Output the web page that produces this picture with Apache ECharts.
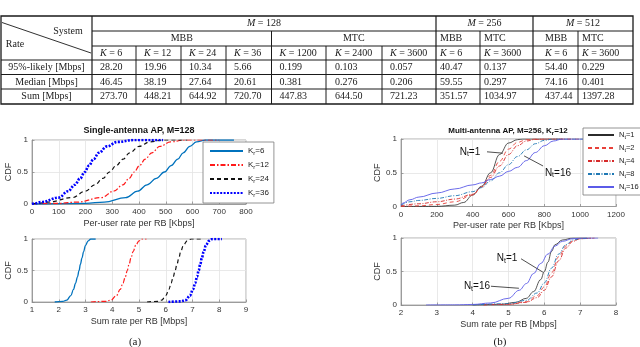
<!DOCTYPE html>
<html>
<head>
<meta charset="utf-8">
<script src="https://cdn.jsdelivr.net/npm/echarts@6/dist/echarts.min.js"></script>
<style>
html, body { margin: 0; padding: 0; background: #fff; }
#chart { width: 640px; height: 347px; }
</style>
</head>
<body>
<div id="chart"></div>
<script>
// ---- table data ----
var mValues = ['128', '256', '512'];
var systemLabels = ['MBB', 'MTC', 'MBB', 'MTC', 'MBB', 'MTC'];
var kLabels = ['6', '12', '24', '36', '1200', '2400', '3600', '6', '3600', '6', '3600'];
var rateLabels = ['95%-likely [Mbps]', 'Median [Mbps]', 'Sum [Mbps]'];
var rate95 = ['28.20', '19.96', '10.34', '5.66', '0.199', '0.103', '0.057', '40.47', '0.137', '54.40', '0.229'];
var rateMedian = ['46.45', '38.19', '27.64', '20.61', '0.381', '0.276', '0.206', '59.55', '0.297', '74.16', '0.401'];
var rateSum = ['273.70', '448.21', '644.92', '720.70', '447.83', '644.50', '721.23', '351.57', '1034.97', '437.44', '1397.28'];

// ---- (a) single-antenna AP, M=128 : [rate, CDF] ----
var kValues = [6, 12, 24, 36];
var userK6 = [[0,0],[200,0.01],[270,0.03],[350,0.1],[395,0.2],[430,0.3],[465,0.4],[495,0.5],[520,0.6],[545,0.7],[565,0.8],[590,0.9],[615,0.97],[650,1],[755,1]];
var userK12 = [[0,0],[100,0.01],[170,0.03],[260,0.1],[305,0.2],[340,0.3],[363,0.4],[382,0.5],[402,0.6],[423,0.7],[448,0.8],[478,0.9],[518,0.97],[570,1],[700,1]];
var userK24 = [[0,0],[20,0.01],[60,0.03],[150,0.1],[200,0.2],[235,0.3],[265,0.4],[290,0.5],[315,0.6],[340,0.7],[365,0.8],[400,0.9],[440,0.97],[490,1],[580,1]];
var userK36 = [[0,0],[10,0.01],[35,0.03],[100,0.1],[135,0.2],[160,0.3],[180,0.4],[197,0.5],[213,0.6],[230,0.7],[250,0.8],[280,0.9],[320,0.97],[380,1],[490,1]];
var sumK6 = [[1.85,0],[2.15,0.01],[2.3,0.03],[2.45,0.1],[2.55,0.2],[2.63,0.3],[2.7,0.4],[2.76,0.5],[2.81,0.6],[2.87,0.7],[2.93,0.8],[3.0,0.9],[3.1,0.97],[3.2,1],[3.38,1]];
var sumK12 = [[3.2,0],[3.75,0.01],[3.95,0.03],[4.15,0.1],[4.3,0.2],[4.4,0.3],[4.49,0.4],[4.56,0.5],[4.63,0.6],[4.7,0.7],[4.78,0.8],[4.88,0.9],[5.0,0.97],[5.1,1],[5.28,1]];
var sumK24 = [[5.3,0],[5.7,0.01],[5.85,0.03],[6.0,0.1],[6.12,0.2],[6.2,0.3],[6.28,0.4],[6.35,0.5],[6.42,0.6],[6.49,0.7],[6.56,0.8],[6.66,0.9],[6.8,0.97],[6.95,1],[7.35,1]];
var sumK36 = [[6.1,0],[6.55,0.01],[6.75,0.03],[6.9,0.1],[7.02,0.2],[7.1,0.3],[7.17,0.4],[7.23,0.5],[7.29,0.6],[7.35,0.7],[7.42,0.8],[7.5,0.9],[7.62,0.97],[7.75,1],[8.1,1]];

// ---- (b) multi-antenna AP, M=256, Kr=12 ----
var ntValues = [1, 2, 4, 8, 16];
var userNt1 = [[0,0],[200,0.002],[300,0.02],[350,0.06],[400,0.17],[450,0.3],[500,0.5],[550,0.77],[600,0.94],[650,0.99],[680,1],[900,1]];
var userNt2 = [[0,0],[100,0.01],[200,0.03],[300,0.07],[400,0.17],[450,0.29],[500,0.46],[550,0.67],[600,0.85],[650,0.95],[700,0.99],[750,1],[950,1]];
var userNt4 = [[0,0.01],[100,0.04],[200,0.07],[300,0.11],[400,0.18],[450,0.29],[500,0.43],[550,0.6],[600,0.77],[650,0.9],[700,0.97],[750,0.995],[800,1],[1000,1]];
var userNt8 = [[0,0.02],[50,0.07],[100,0.09],[200,0.12],[300,0.16],[400,0.22],[450,0.28],[500,0.38],[550,0.5],[600,0.62],[650,0.74],[700,0.84],[750,0.93],[800,0.98],[850,1],[1050,1]];
var userNt16 = [[0,0.02],[10,0.05],[50,0.1],[100,0.14],[200,0.2],[300,0.26],[400,0.32],[450,0.35],[500,0.4],[550,0.45],[600,0.52],[650,0.58],[700,0.68],[750,0.8],[800,0.9],[850,0.97],[900,1],[1120,1]];
var sumNt1 = [[4.0,0],[4.8,0.01],[5.2,0.04],[5.5,0.1],[5.7,0.2],[5.9,0.38],[6.0,0.5],[6.1,0.64],[6.2,0.8],[6.3,0.9],[6.5,0.97],[6.8,1],[7.2,1]];
var sumNt2 = [[4.3,0],[5.0,0.01],[5.5,0.05],[5.8,0.14],[6.0,0.27],[6.2,0.48],[6.4,0.72],[6.6,0.88],[6.8,0.96],[7.0,0.99],[7.3,1]];
var sumNt4 = [[4.3,0],[5.0,0.01],[5.5,0.04],[5.8,0.11],[6.0,0.22],[6.2,0.42],[6.4,0.66],[6.6,0.85],[6.8,0.95],[7.0,0.99],[7.4,1]];
var sumNt8 = [[4.0,0],[5.0,0.02],[5.5,0.07],[5.8,0.18],[6.0,0.33],[6.2,0.55],[6.4,0.76],[6.6,0.9],[6.8,0.97],[7.0,0.99],[7.3,1]];
var sumNt16 = [[2.7,0],[3.5,0.002],[4.0,0.008],[4.5,0.03],[5.0,0.1],[5.3,0.22],[5.5,0.32],[5.7,0.47],[5.9,0.62],[6.1,0.76],[6.3,0.88],[6.5,0.95],[6.8,0.99],[7.1,1],[7.5,1]];

// annotations in data units: [text centre, arrow start, arrow tip]
var noteUserNt1 = [[385, 0.81], [480, 0.81], [569, 0.79]];
var noteUserNt16 = [[876, 0.5], [793, 0.6], [687, 0.75]];
var noteSumNt1 = [[4.96, 0.7], [5.35, 0.69], [5.96, 0.49]];
var noteSumNt16 = [[4.12, 0.28], [4.51, 0.28], [5.29, 0.25]];

var SANS = 'Liberation Sans, Arial, sans-serif';
var SERIF = 'Liberation Serif, Times New Roman, serif';
var INK = '#1a1a1a';

// ---------- table built from graphic elements ----------
var colX = [1, 92, 136, 181, 226, 271.5, 326, 382, 436, 480, 533, 578, 633];
var rowY = [16, 31, 46, 60, 74.5, 89, 104];
var textPad = [8, 8, 8, 8, 8, 9, 8, 4, 4, 12, 4];

function hLine(x1, x2, y, w) {
    return { type: 'line', silent: true, shape: { x1: x1, y1: y, x2: x2, y2: y }, style: { stroke: INK, lineWidth: w || 1 } };
}
function vLine(x, y1, y2, w) {
    return { type: 'line', silent: true, shape: { x1: x, y1: y1, x2: x, y2: y2 }, style: { stroke: INK, lineWidth: w || 1 } };
}
function cellText(x, y, text, align, rich) {
    return {
        type: 'text', silent: true, x: x, y: y,
        style: { text: text, font: '10px ' + SERIF, fill: INK, align: align || 'left', verticalAlign: 'middle', rich: rich }
    };
}
var italicRich = {
    i: { fontFamily: SERIF, fontSize: 10, fontStyle: 'italic', fill: INK, color: INK },
    n: { fontFamily: SERIF, fontSize: 10, fill: INK, color: INK }
};

var tableEls = [];
tableEls.push({ type: 'rect', silent: true, shape: { x: colX[0], y: rowY[0], width: colX[12] - colX[0], height: rowY[6] - rowY[0] }, style: { fill: 'none', stroke: INK, lineWidth: 1.3 } });
tableEls.push(hLine(colX[1], colX[12], rowY[1]));
tableEls.push(hLine(colX[1], colX[12], rowY[2]));
[3, 4, 5].forEach(function (r) { tableEls.push(hLine(colX[0], colX[12], rowY[r])); });
tableEls.push(vLine(colX[1], rowY[0], rowY[6], 1.2));
tableEls.push(vLine(colX[8], rowY[0], rowY[6], 1.2));
tableEls.push(vLine(colX[10], rowY[0], rowY[6], 1.2));
[5, 9, 11].forEach(function (c) { tableEls.push(vLine(colX[c], rowY[1], rowY[6])); });
[2, 3, 4, 6, 7].forEach(function (c) { tableEls.push(vLine(colX[c], rowY[2], rowY[6])); });
tableEls.push({ type: 'line', silent: true, shape: { x1: 2, y1: 22.5, x2: 91, y2: 53 }, style: { stroke: INK, lineWidth: 0.9 } });
tableEls.push(cellText(68, 31.5, 'System', 'center'));
tableEls.push(cellText(15, 44.5, 'Rate', 'center'));

// M = ... header row
var mSpans = [[1, 8], [8, 10], [10, 12]];
mValues.forEach(function (m, i) {
    var cx = (colX[mSpans[i][0]] + colX[mSpans[i][1]]) / 2;
    tableEls.push(cellText(cx, 23.5, '{i|M}{n| = ' + m + '}', 'center', italicRich));
});
// system row
var sysSpans = [[1, 5], [5, 8], [8, 9], [9, 10], [10, 11], [11, 12]];
systemLabels.forEach(function (s, i) {
    var a = sysSpans[i][0], b = sysSpans[i][1];
    if (i < 2) {
        tableEls.push(cellText((colX[a] + colX[b]) / 2, 38.5, s, 'center'));
    } else {
        tableEls.push(cellText(colX[a] + textPad[a - 1], 38.5, s, 'left'));
    }
});
// K row and values
kLabels.forEach(function (k, i) {
    var x = colX[i + 1] + textPad[i];
    tableEls.push(cellText(x, 53.2, '{i|K}{n| = ' + k + '}', 'left', italicRich));
    tableEls.push(cellText(x, 67.5, rate95[i], 'left'));
    tableEls.push(cellText(x, 82, rateMedian[i], 'left'));
    tableEls.push(cellText(x, 96.7, rateSum[i], 'left'));
});
rateLabels.forEach(function (r, i) {
    tableEls.push(cellText(46.5, [67.5, 82, 96.7][i], r, 'center'));
});

// titles & captions
var subRich = {
    m: { fontFamily: SANS, fontSize: 8, fontWeight: 'bold', color: '#111', fill: '#111' },
    s: { fontFamily: SANS, fontSize: 6, fontWeight: 'bold', color: '#111', fill: '#111', padding: [4, 0, 0, 0] }
};
var decoEls = [
    { type: 'text', silent: true, x: 139, y: 131, style: { text: 'Single-antenna AP, M=128', font: 'bold 9px ' + SANS, fill: '#111', align: 'center', verticalAlign: 'middle' } },
    { type: 'text', silent: true, x: 508, y: 131, style: { text: '{m|Multi-antenna AP, M=256, K}{s|r}{m|=12}', rich: subRich, align: 'center', verticalAlign: 'middle' } },
    { type: 'text', silent: true, x: 135, y: 342, style: { text: '(a)', font: '11px ' + SERIF, fill: INK, align: 'center', verticalAlign: 'middle' } },
    { type: 'text', silent: true, x: 500, y: 342, style: { text: '(b)', font: '11px ' + SERIF, fill: INK, align: 'center', verticalAlign: 'middle' } }
];

// ---------- charts ----------
var grids = [
    { left: 32, top: 140, width: 214, height: 64 },
    { left: 32, top: 239, width: 214, height: 63 },
    { left: 401, top: 139, width: 215, height: 67.5 },
    { left: 401, top: 238, width: 215, height: 67 }
].map(function (g) {
    return Object.assign({ show: true, borderColor: '#9a9a9a', borderWidth: 0.8, containLabel: false, outerBoundsMode: 'none' }, g);
});

var xRanges = [[0, 800, 100, 'Per-user rate per RB [Kbps]'], [1, 9, 1, 'Sum rate per RB [Mbps]'],
               [0, 1200, 200, 'Per-user rate per RB [Kbps]'], [2, 8, 1, 'Sum rate per RB [Mbps]']];

var xAxes = xRanges.map(function (r, i) {
    return {
        type: 'value', gridIndex: i, min: r[0], max: r[1], interval: r[2],
        name: r[3], nameLocation: 'middle', nameGap: 15,
        nameTextStyle: { fontFamily: SANS, fontSize: 9, color: '#333' },
        axisLine: { show: true, lineStyle: { color: '#8a8a8a', width: 0.8 } },
        axisTick: { show: true, inside: true, length: 2.5, lineStyle: { color: '#8a8a8a', width: 0.8 } },
        axisLabel: { margin: 4, fontFamily: SANS, fontSize: 8, color: '#333',
            formatter: function (v) { return String(v); } },
        splitLine: { show: true, lineStyle: { color: '#e3e3e3', width: 0.8 } }
    };
});
var yAxes = [0, 1, 2, 3].map(function (i) {
    return {
        type: 'value', gridIndex: i, min: 0, max: 1, interval: 0.5,
        name: 'CDF', nameLocation: 'middle', nameGap: i < 2 ? 12 : 15, nameRotate: 90,
        nameTextStyle: { fontFamily: SANS, fontSize: 9, color: '#333' },
        axisLine: { show: true, lineStyle: { color: '#8a8a8a', width: 0.8 } },
        axisTick: { show: true, inside: true, length: 2.5, lineStyle: { color: '#8a8a8a', width: 0.8 } },
        axisLabel: { margin: 4, fontFamily: SANS, fontSize: 8, color: '#333',
            formatter: function (v) { return String(v); } },
        splitLine: { show: true, lineStyle: { color: '#e3e3e3', width: 0.8 } }
    };
});

function curve(name, data, axis, color, dash, width) {
    return {
        type: 'line', name: name, xAxisIndex: axis, yAxisIndex: axis, data: data,
        symbol: 'none', smooth: 0.4, smoothMonotone: 'x', silent: true,
        lineStyle: { color: color, type: dash, width: width, cap: 'butt' },
        itemStyle: { color: color }
    };
}

var kStyles = [['#0072BD', 'solid', 1.3], ['#FF1A1A', [5, 2, 1.5, 2], 1.2], ['#111111', [4, 3], 1.2], ['#0000FF', [2, 1.4], 2.6]];
var ntStyles = [['#2b2b2b', 'solid', 0.8], ['#E8413A', [4, 3], 0.9], ['#D62A2A', [4, 1.5, 1, 1.5], 0.9], ['#1F78B4', [4, 1.5, 1, 1.5], 0.9], ['#5B5BE8', 'solid', 0.9]];
var userK = [userK6, userK12, userK24, userK36];
var sumK = [sumK6, sumK12, sumK24, sumK36];
var userNt = [userNt1, userNt2, userNt4, userNt8, userNt16];
var sumNt = [sumNt1, sumNt2, sumNt4, sumNt8, sumNt16];

var series = [];
kValues.forEach(function (k, i) {
    var s = kStyles[i];
    series.push(curve('K' + k, userK[i], 0, s[0], s[1], s[2]));
    series.push(curve('K' + k, sumK[i], 1, s[0], s[1], s[2]));
});
ntValues.forEach(function (n, i) {
    var s = ntStyles[i];
    series.push(curve('N' + n, userNt[i], 2, s[0], s[1], s[2]));
    series.push(curve('N' + n, sumNt[i], 3, s[0], s[1], s[2]));
});

// arrows (markLine) and their texts (markPoint), attached to the N_t=16 series
var noteRich = {
    m: { fontFamily: SANS, fontSize: 10, color: '#111' },
    s: { fontFamily: SANS, fontSize: 7, color: '#111', padding: [5, 0, 0, 0] }
};
function annotate(s, notes, labels) {
    s.markLine = {
        silent: true, symbol: ['none', 'arrow'], symbolSize: [0, 6], animation: false,
        lineStyle: { color: '#222', width: 0.8, type: 'solid' },
        label: { show: false },
        data: notes.map(function (n) { return [{ coord: n[1] }, { coord: n[2] }]; })
    };
    s.markPoint = {
        silent: true, symbol: 'circle', symbolSize: 0, animation: false,
        itemStyle: { color: 'rgba(0,0,0,0)' },
        label: { show: true, position: 'inside', rich: noteRich },
        data: notes.map(function (n, i) { return { coord: n[0], label: { formatter: labels[i] } }; })
    };
}
annotate(series[series.length - 2], [noteUserNt1, noteUserNt16], ['{m|N}{s|t}{m|=1}', '{m|N}{s|t}{m|=16}']);
annotate(series[series.length - 1], [noteSumNt1, noteSumNt16], ['{m|N}{s|t}{m|=1}', '{m|N}{s|t}{m|=16}']);

function legendOf(names, prefix, sub, box, item) {
    var rich = {
        m: { fontFamily: SANS, fontSize: item.font, color: '#222' },
        s: { fontFamily: SANS, fontSize: item.font - 2, color: '#222', padding: [4, 0, 0, 0] }
    };
    return {
        data: names.map(function (n) { return prefix + n; }),
        orient: 'vertical', left: box.left, top: box.top,
        itemWidth: item.width, itemHeight: 8, itemGap: item.gap,
        padding: box.padding, borderColor: '#7a7a7a', borderWidth: 0.8, borderRadius: 0,
        backgroundColor: '#fff', selectedMode: false,
        itemStyle: { opacity: 0 },
        textStyle: { fontFamily: SANS, fontSize: item.font, color: '#222', rich: rich },
        formatter: function (name) {
            return '{m|' + prefix.charAt(0) + '}{s|' + sub + '}{m|=' + name.slice(1) + '}';
        }
    };
}

var chart = echarts.init(document.getElementById('chart'), null, { renderer: 'canvas' });
chart.setOption({
    animation: false,
    backgroundColor: '#fff',
    textStyle: { fontFamily: SANS },
    grid: grids,
    xAxis: xAxes,
    yAxis: yAxes,
    legend: [
        legendOf(kValues, 'K', 'r', { left: 203, top: 142, padding: [5, 5, 5, 6] }, { width: 33, gap: 5, font: 8 }),
        legendOf(ntValues, 'N', 't', { left: 583, top: 128, padding: [3, 5, 3, 4] }, { width: 26, gap: 4, font: 7.5 })
    ],
    series: series,
    graphic: { elements: tableEls.concat(decoEls) }
});
</script>
</body>
</html>
